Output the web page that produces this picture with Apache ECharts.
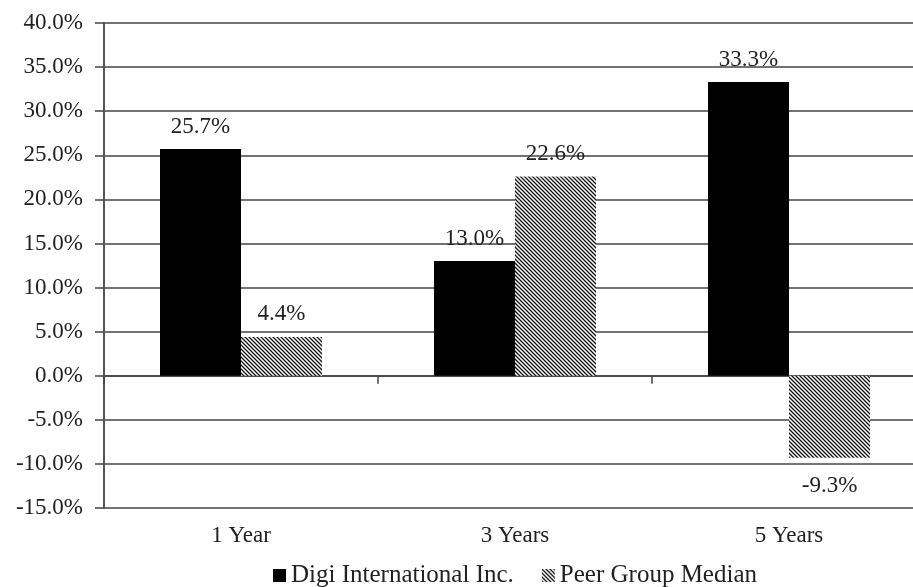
<!DOCTYPE html>
<html><head><meta charset="utf-8">
<script src="https://cdn.jsdelivr.net/npm/echarts@6/dist/echarts.min.js"></script>
<style>html,body{margin:0;padding:0;background:#fff;overflow:hidden;width:913px;height:587px}#c{width:1030px;height:600px}</style>
</head><body><div id="c"></div>
<script>
var categories = ['1 Year', '3 Years', '5 Years'];
var digiValues = [25.7, 13.0, 33.3];
var peerValues = [4.4, 22.6, -9.3];
var seriesNames = ['Digi International Inc.', 'Peer Group Median'];

function hatch() {
  var c = document.createElement('canvas');
  c.width = 4; c.height = 4;
  var g = c.getContext('2d');
  g.fillStyle = '#fff'; g.fillRect(0, 0, 4, 4);
  g.strokeStyle = '#111'; g.lineWidth = 1.3;
  g.beginPath();
  g.moveTo(-1, -1); g.lineTo(5, 5);
  g.moveTo(-3, 1); g.lineTo(1, 5);
  g.moveTo(3, -1); g.lineTo(7, 3);
  g.stroke();
  return c;
}
var font = 'Liberation Serif';
var txt = '#222';
var chart = echarts.init(document.getElementById('c'));
chart.setOption({
  animation: false,
  textStyle: { fontFamily: font },
  grid: { left: 104, right: 104, top: 23, bottom: 92 },
  legend: {
    bottom: 7, left: 'center', icon: 'rect', itemWidth: 13, itemHeight: 13, itemGap: 28,
    textStyle: { fontFamily: font, fontSize: 25, color: txt },
    data: seriesNames
  },
  xAxis: [{
    type: 'category', data: categories,
    axisLine: { onZero: true, lineStyle: { color: '#444', width: 1.5 } },
    axisTick: { show: true, length: 8, lineStyle: { color: '#444', width: 1.5 } },
    axisLabel: { show: false }
  }, {
    type: 'category', data: categories, position: 'bottom',
    axisLine: { show: false, onZero: false }, axisTick: { show: false },
    axisLabel: { fontFamily: font, fontSize: 23, color: txt, margin: 16 }
  }],
  yAxis: {
    type: 'value', min: -15, max: 40, interval: 5,
    axisLine: { show: true, lineStyle: { color: '#555', width: 2 } },
    axisTick: { show: true, length: 9, lineStyle: { color: '#444', width: 1.5 } },
    splitLine: { lineStyle: { color: '#444', width: 1.5 } },
    axisLabel: { fontFamily: font, fontSize: 23, color: txt, margin: 21,
      formatter: function (v) { return v.toFixed(1) + '%'; } }
  },
  series: [{
    name: seriesNames[0], type: 'bar', xAxisIndex: 0, data: digiValues,
    barWidth: 81, barGap: '0%',
    itemStyle: { color: '#000' },
    label: { show: true, position: 'top', distance: 11, fontFamily: font, fontSize: 23, color: txt,
      formatter: function (p) { return p.value.toFixed(1) + '%'; } }
  }, {
    name: seriesNames[1], type: 'bar', xAxisIndex: 0,
    data: peerValues.map(function (v) {
      return v < 0 ? { value: v, label: { position: 'bottom', distance: 17 } } : v;
    }),
    barWidth: 81, barGap: '0%',
    itemStyle: { color: { image: hatch(), repeat: 'repeat' } },
    label: { show: true, position: 'top', distance: 11, fontFamily: font, fontSize: 23, color: txt,
      formatter: function (p) { return p.value.toFixed(1) + '%'; } }
  }]
});
</script></body></html>
